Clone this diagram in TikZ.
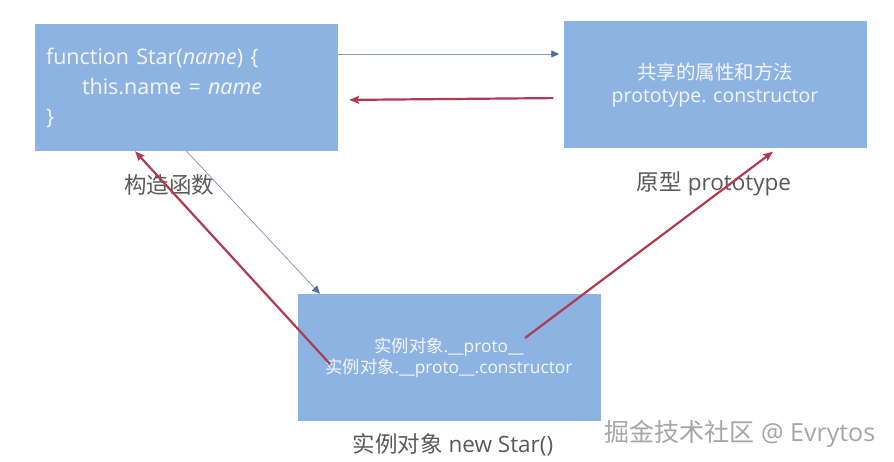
\documentclass[tikz,border=0pt]{standalone}
\usepackage{fontspec}
\setmainfont{Open Sans}
\newfontfamily\cjk{Noto Sans CJK SC}
\usetikzlibrary{arrows.meta,positioning,calc}
\definecolor{protofill}{HTML}{8DB3E2}
\definecolor{prototext}{HTML}{F4F6FA}
\definecolor{protored}{HTML}{AE3B52}
\definecolor{protothin}{HTML}{8E9AAF}
\definecolor{protohead}{HTML}{4A6FA8}
\definecolor{protogray}{HTML}{595959}
\tikzset{
  protobox/.style={fill=protofill, minimum width=303pt, minimum height=127pt,
    inner sep=0pt, text=prototext, align=center},
  protolbl/.style={font=\fontsize{22.5}{26}\selectfont, text=protogray},
  protothinarr/.style={draw=protothin, line width=0.8pt,
    -{Triangle[length=8pt,width=7pt,fill=protohead,color=protohead]}},
  protoredarr/.style={draw=protored, line width=2.2pt,
    -{Stealth[length=10pt,width=8pt,inset=2pt]}},
}
\begin{document}
\begin{tikzpicture}[x=1pt, y=-1pt]
  \useasboundingbox (0,0) rectangle (894,462);
  \node[protobox, align=left, text width=281pt, inner xsep=11pt,
    font=\fontsize{21.5}{30}\selectfont] (ctor) at (186.5,87.5) {%
    function Star(\emph{name}) \{\\
    \hspace*{36pt}this.name = \emph{name}\\
    \}};
  \node[protobox, font=\fontsize{19.5}{23}\selectfont] (proto) at (715,85) {%
    {\cjk 共享的属性和方法}\\
    prototype. constructor};
  \node[protobox, font=\fontsize{17.3}{21}\selectfont] (inst) at (449,357.5) {%
    {\cjk 实例对象}.\_\_proto\_\_\\
    {\cjk 实例对象}.\_\_proto\_\_.constructor};
  \node[protolbl] (ctorlbl) at (169,185) {\cjk 构造函数};
  \node[protolbl] (protolbl) at (714,184) {{\cjk 原型} prototype};
  \node[protolbl] (instlbl) at (453,445) {{\cjk 实例对象} new Star()};
  \node[protolbl, font=\fontsize{25}{28}\selectfont, text=gray!70] (mark) at (740,434) {{\cjk 掘金技术社区} @ Evrytos};
  % connectors
  \draw[protothinarr, shorten >=4pt] ([yshift=33.5pt]ctor.east) -- ([yshift=31pt]proto.west);
  \draw[protoredarr, shorten <=10pt, shorten >=11pt] ([yshift=-13pt]proto.west) -- ([yshift=-12.5pt]ctor.east);
  \draw[protothinarr] (ctor.south) -- ([xshift=-129pt]inst.north);
  \draw[protoredarr] ([xshift=-119pt,yshift=-6.5pt]inst.center) -- ([xshift=-51.5pt]ctor.south);
  \draw[protoredarr] ([xshift=76pt,yshift=19.5pt]inst.center) -- ([xshift=58pt,yshift=-3pt]proto.south);
\end{tikzpicture}
\end{document}
